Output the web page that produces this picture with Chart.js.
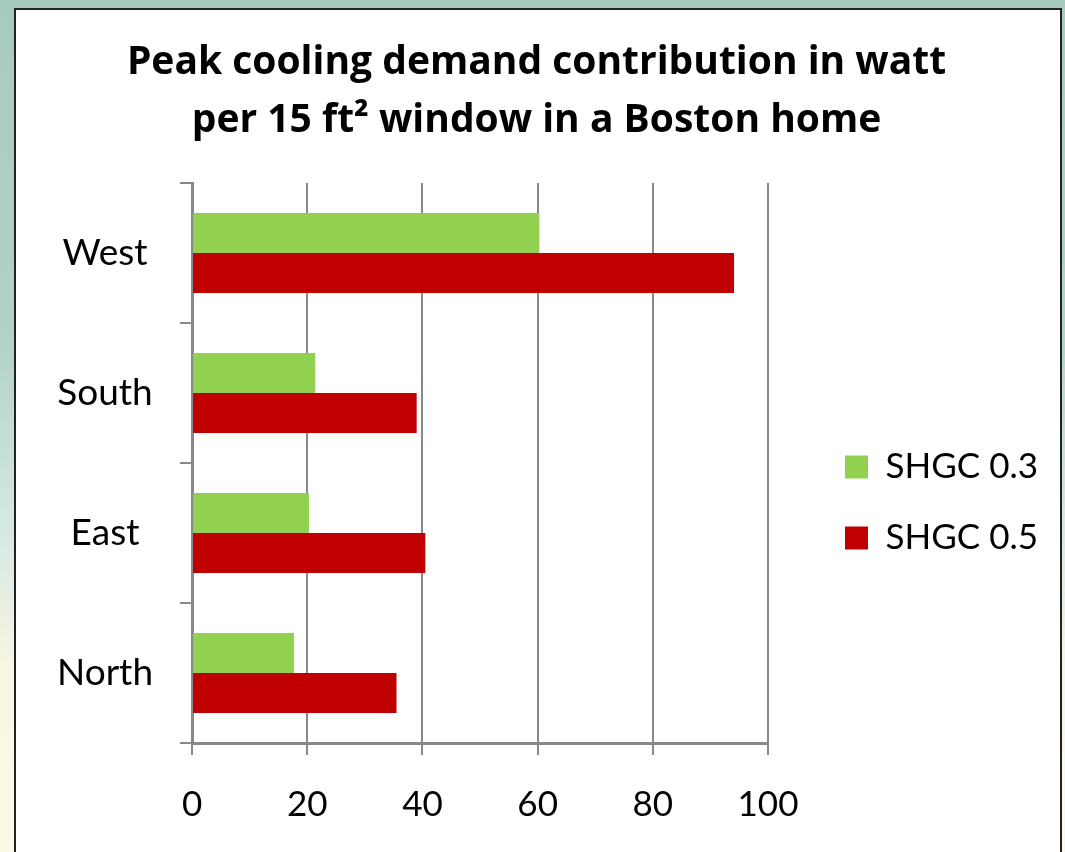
<!DOCTYPE html>
<html lang="en">
<head>
    <meta charset="UTF-8">
    <title>Peak cooling demand</title>
    <script src="https://cdn.jsdelivr.net/npm/chart.js"></script>
    <style>
        html, body { margin: 0; padding: 0; }
        body {
            width: 1065px;
            height: 852px;
            overflow: hidden;
            background: linear-gradient(to bottom, #a7cac0 0%, #b3d2c9 40%, #d6e8e2 62%, #f7f5e4 78%, #fcf9e8 100%);
        }
        .panel {
            position: absolute;
            left: 14px;
            top: 8px;
            width: 1044px;
            height: 850px;
            background: #fff;
            border: 2px solid #222;
        }
    </style>
</head>
<body>
    <div class="panel">
        <canvas id="coolingChart" width="1044" height="850"></canvas>
    </div>
    <script>
        const directions = ['West', 'South', 'East', 'North'];
        const shgc03 = [60.3, 21.4, 20.3, 17.7];
        const shgc05 = [94.1, 39.0, 40.5, 35.5];
        const xTicks = [0, 20, 40, 60, 80, 100];

        // nudge legend right/down and re-center the title on the panel
        const layoutTweaks = {
            id: 'layoutTweaks',
            afterLayout(chart) {
                const lg = chart.legend;
                lg.left += 41; lg.right += 41;
                lg.top += 65; lg.bottom += 65;
                const tb = chart.titleBlock;
                tb.left += 18; tb.right += 18;
            }
        };

        const ctx = document.getElementById('coolingChart').getContext('2d');
        new Chart(ctx, {
            type: 'bar',
            data: {
                labels: directions,
                datasets: [
                    {
                        label: 'SHGC 0.3',
                        data: shgc03,
                        backgroundColor: '#92D050',
                        categoryPercentage: 0.57,
                        barPercentage: 1.0
                    },
                    {
                        label: 'SHGC 0.5',
                        data: shgc05,
                        backgroundColor: '#C00000',
                        categoryPercentage: 0.57,
                        barPercentage: 1.0
                    }
                ]
            },
            options: {
                indexAxis: 'y',
                responsive: false,
                animation: false,
                layout: {
                    padding: { left: 14, right: 53, top: 10, bottom: 5 }
                },
                scales: {
                    x: {
                        min: 0,
                        max: 100,
                        afterBuildTicks: (axis) => {
                            axis.ticks = xTicks.map(v => ({ value: v }));
                        },
                        grid: {
                            color: '#888',
                            lineWidth: 2,
                            tickLength: 12
                        },
                        border: { color: '#888', width: 3 },
                        ticks: {
                            color: '#000',
                            padding: 29,
                            font: { family: 'Lato', size: 35 }
                        }
                    },
                    y: {
                        grid: {
                            offset: true,
                            drawOnChartArea: false,
                            color: '#888',
                            lineWidth: 2,
                            tickLength: 12
                        },
                        border: { color: '#888', width: 3 },
                        ticks: {
                            color: '#000',
                            padding: 27,
                            crossAlign: 'center',
                            font: { family: 'Lato', size: 37 }
                        }
                    }
                },
                plugins: {
                    title: {
                        display: true,
                        text: ['Peak cooling demand contribution in watt', 'per 15 ft\u00B2 window in a Boston home'],
                        color: '#000',
                        font: { family: 'Open Sans', size: 39, weight: 'bold', lineHeight: '58px' },
                        padding: { top: 14, bottom: 33 }
                    },
                    legend: {
                        position: 'right',
                        labels: {
                            color: '#000',
                            boxWidth: 23,
                            boxHeight: 23,
                            padding: 36,
                            font: { family: 'Lato', size: 35 }
                        }
                    },
                    tooltip: { enabled: false }
                }
            },
            plugins: [layoutTweaks]
        });
    </script>
</body>
</html>
